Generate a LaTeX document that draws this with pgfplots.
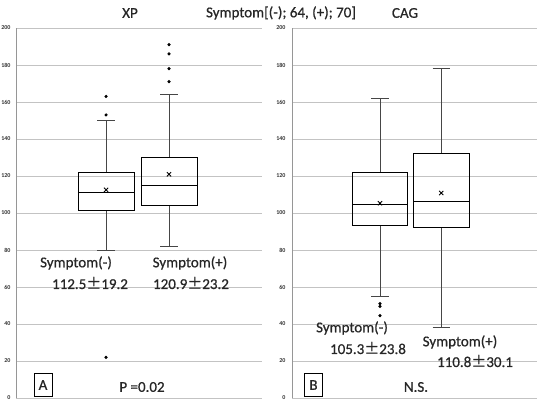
\documentclass[border=0pt]{standalone}
\usepackage{pgfplots}
\pgfplotsset{compat=1.18}
\usepgfplotslibrary{statistics}
\usepackage{fontspec}
\setmainfont{Carlito}
\newfontfamily\heavy{Carlito}[FakeBold=0.6]
\newfontfamily\cjk{Noto Sans CJK JP}[FakeBold=0.6]
\newcommand{\PM}{{\cjk ±}}
\definecolor{gridc}{RGB}{195,195,195}
\definecolor{axc}{RGB}{150,150,150}
\definecolor{whc}{RGB}{70,70,70}
\pgfplotsset{
  panel/.style={
    scale only axis, height=370pt,
    xmin=0, xmax=1, ymin=0, ymax=200,
    ytick={0,20,...,200}, xtick=\empty,
    axis lines*=left, x axis line style={draw=none},
    y axis line style={axc, line width=0.8pt},
    ymajorgrids, grid style={gridc, line width=0.8pt},
    major tick length=0pt,
    yticklabel style={font=\fontsize{6}{7}\selectfont\bfseries, color=black!80},
    /pgf/number format/assume math mode=true,
    clip=false,
  },
  bx/.style={boxplot/draw direction=y, black, line width=0.9pt, solid,
    mark=*, mark size=1.1pt, mark options={fill=black, draw=black},
    boxplot/every whisker/.style={whc, line width=0.9pt},
    boxplot/every median/.style={black, line width=0.9pt},
    boxplot/box extend=0.228, boxplot/whisker extend=0.07},
}
\begin{document}
\begin{tikzpicture}
\path[use as bounding box] (0,0) rectangle (540pt,400pt);
\begin{axis}[panel, at={(16pt,2pt)}, anchor=south west, width=246pt,
  yticklabel style={xshift=-2pt}]
\addplot+[bx, boxplot prepared={draw position=0.366, lower whisker=79.5, lower quartile=101.5, median=111, upper quartile=122, upper whisker=150}] table[row sep=\\, y index=0] {163\\153\\22\\};
\addplot+[bx, boxplot prepared={draw position=0.622, lower whisker=82, lower quartile=104, median=115, upper quartile=130, upper whisker=164}] table[row sep=\\, y index=0] {191\\186\\178\\171\\};
\addplot[only marks, mark=x, mark size=3pt, black, line width=0.9pt] coordinates {(0.366,112.5) (0.622,120.9)};
\end{axis}
\begin{axis}[panel, at={(292pt,2pt)}, anchor=south west, width=245pt,
  yticklabel style={xshift=-3pt}]
\addplot+[bx, boxplot prepared={draw position=0.359, lower whisker=55, lower quartile=93.5, median=104.5, upper quartile=122, upper whisker=162}] table[row sep=\\, y index=0] {51\\49.5\\44.5\\};
\addplot+[bx, boxplot prepared={draw position=0.609, lower whisker=38, lower quartile=92, median=106, upper quartile=132, upper whisker=178}] coordinates {};
\addplot[only marks, mark=x, mark size=3pt, black, line width=0.9pt] coordinates {(0.359,105.3) (0.609,110.8)};
\end{axis}
\begin{scope}[every node/.style={font=\heavy\fontsize{15}{18}\selectfont, inner sep=0pt, text=black!85}]
\node at (130pt,387pt) {XP};
\node at (281pt,387pt) {Symptom[(-); 64, (+); 70]};
\node at (405pt,387pt) {CAG};
\node at (76pt,137pt) {Symptom(-)};
\node at (90pt,117pt) {112.5\PM19.2};
\node at (190pt,137pt) {Symptom(+)};
\node at (191pt,117pt) {120.9\PM23.2};
\node at (142pt,13pt) {P =0.02};
\node at (352pt,72pt) {Symptom(-)};
\node at (368pt,52pt) {105.3\PM23.8};
\node at (460pt,58pt) {Symptom(+)};
\node at (475pt,39pt) {110.8\PM30.1};
\node at (416pt,13pt) {N.S.};
\node[draw=black, line width=0.9pt, minimum width=18pt, minimum height=23pt] at (43pt,15pt) {A};
\node[draw=black, line width=0.9pt, minimum width=18pt, minimum height=23pt] at (313.5pt,15pt) {B};
\end{scope}
\end{tikzpicture}
\end{document}
